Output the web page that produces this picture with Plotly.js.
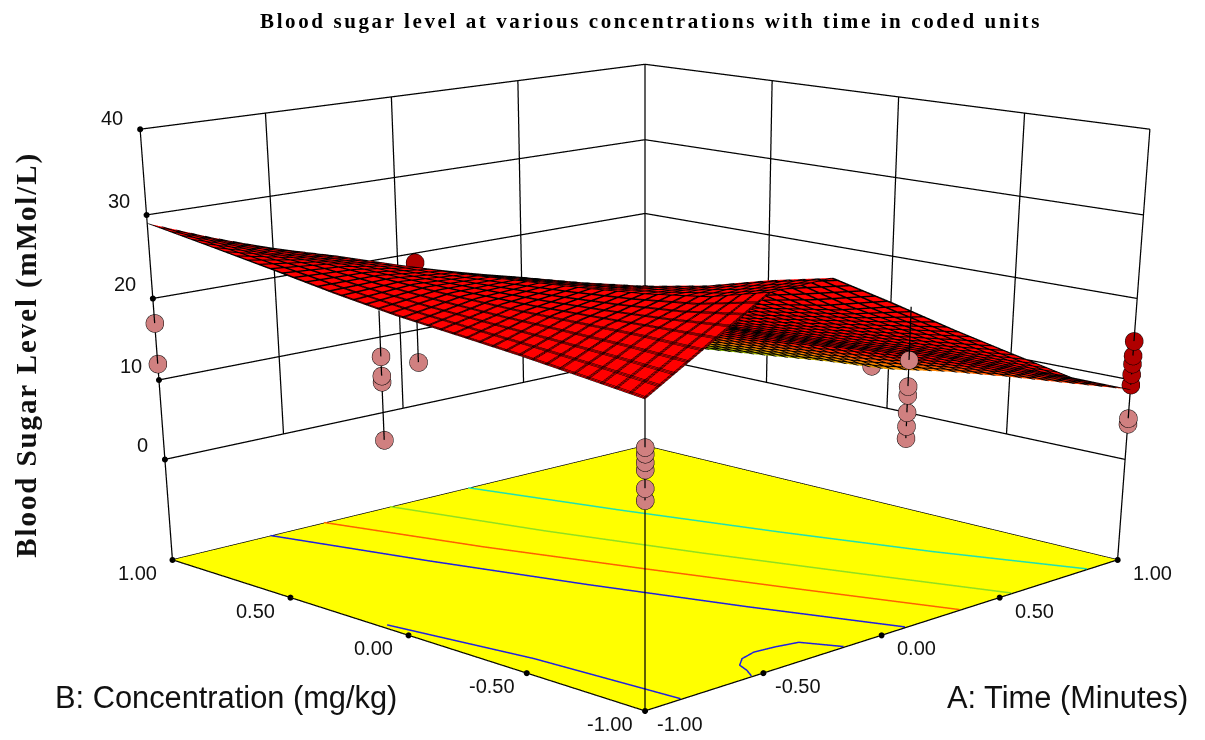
<!DOCTYPE html>
<html>
<head>
<meta charset="utf-8">
<script src="https://cdn.plot.ly/plotly-3.0.1.min.js"></script>
<style>
html,body{margin:0;padding:0;background:#fff;overflow:hidden;width:1205px;height:740px}
#frame{position:relative;width:1205px;height:740px;overflow:hidden}
#chart{position:absolute;left:0;top:-24px;width:1290px;height:2478px}
.gtitle{letter-spacing:2.6px}
.annotation[data-index="0"] text{letter-spacing:1.9px}
</style>
</head>
<body>
<div id="frame"><div id="chart"></div></div>
<script>
// ---- data ----
const chartTitle = "Blood sugar level at various concentrations with time in coded units";
const zTitle = "Blood Sugar Level (mMol/L)";
const aTitle = "A: Time (Minutes)";
const bTitle = "B: Concentration (mg/kg)";
const aGrid = [-1,-0.75,-0.5,-0.25,0,0.25,0.5,0.75,1];
const bGrid = [-1,-0.75,-0.5,-0.25,0,0.25,0.5,0.75,1];
// rows: A, columns: B
const surfaceByA = [
 [21.4,22.2,23.0,23.7,24.4,25.4,26.6,27.8,29.0],
 [25.5,25.6,25.5,25.4,25.5,25.7,26.0,25.8,26.2],
 [29.8,28.0,27.0,26.3,25.7,25.1,24.7,24.3,23.6],
 [30.0,28.5,26.6,25.2,24.2,23.4,22.4,20.5,18.0],
 [25.8,24.0,22.8,21.5,20.3,18.9,17.5,15.5,13.5],
 [21.3,20.2,19.0,17.8,16.6,15.7,14.8,13.2,11.5],
 [16.8,16.0,15.2,14.2,13.4,12.8,12.0,10.5, 9.0],
 [12.2,12.0,11.6,10.8,10.0, 9.0, 8.0, 6.8, 5.5],
 [ 8.8, 8.1, 7.4, 6.5, 5.2, 4.6, 3.7, 2.8, 2.0]
];
const zTicks = [0,10,20,30,40];
const zTickText = ["0","10","20","30","40"];
const floorTicks = [-1,-0.5,0,0.5,1];
const floorTickText = ["-1.00","-0.50","0.00","0.50","1.00"];
const wallTicks = [-0.5,0,0.5];
const floorZ = -13, topZ = 40;
const meshStep = 0.05;

// design points (the middle coded level sits a little right of the 0.00 tick)
const pinkA = [-1,-1, -1,-1,-1,-1, 0.07, -1,-1,-1,-1,-1,-1, 0.07,0.07,0.07,0.07,0.07,0.07, 1,1, 1];
const pinkB = [ 1, 1, 0.07,0.07,0.07,0.07, 1, -1,-1,-1,-1,-1,-1, -1,-1,-1,-1,-1,-1, -1,-1, 0.07];
const pinkZ = [17,12, 19.4,17.2,16.5,9.8, 5.7, 16.3,15.6,14.7,13.9,11.9,10.6, 19,16,15,13,11.4,10, 5.2,4.5, 5.2];
const redA = [0.07, 1,1,1,1,1];
const redB = [1, -1,-1,-1,-1,-1];
const redZ = [18.8, 14.8,13,12,10.7,9.4];
// stems: A, B, surface height, far end
const stemA = [-1,-1,0.07,0.07,1,1];
const stemB = [1,0.07,1,-1,-1,0.07];
const stemFrom = [29,24.6,18.8,25,14.8,5.2];
const stemTo = [12,9.8,5.7,10,4.5,5.0];

// floor contours
const contourLines = [
 {color:"#20e0b0", a:[0.26,0.41,0.56,0.71,0.87], b:[1,0.5,0,-0.5,-1]},
 {color:"#90e020", a:[-0.07,0.08,0.24,0.40,0.55], b:[1,0.5,0,-0.5,-1]},
 {color:"#ff6000", a:[-0.35,-0.18,0,0.17,0.33], b:[1,0.5,0,-0.5,-1]},
 {color:"#2020e0", a:[-0.58,-0.41,-0.24,-0.07,0.10], b:[1,0.5,0,-0.5,-1]},
 {color:"#2020e0", a:[-0.98,-0.94,-0.89,-0.85], b:[0.11,-0.12,-0.42,-1]},
 {color:"#2020e0", a:[-0.55,-0.52,-0.5,-0.45,-0.38,-0.3,-0.22,-0.16], b:[-1,-0.95,-0.9,-0.86,-0.84,-0.85,-0.87,-1]}
];
const surfaceScale = [[0,"#20a020"],[0.1,"#80c000"],[0.2,"#ff9000"],[0.33,"#ff0000"],[1,"#ff0000"]];

// ---- build ----
// The original draws its coded axes with evenly spaced ticks along converging edges;
// this scale keeps those ticks evenly spaced under Plotly's perspective.
const P=1.16;
function w(u){const t=(u+1)/2;return 2*(t/(P-(P-1)*t))-1;}
const wAll=a=>a.map(v=>v===null?null:w(v));
const surfaceZ = bGrid.map((_,j)=>aGrid.map((_,i)=>surfaceByA[i][j]));
function segs(list){
  const x=[],y=[],z=[];
  list.forEach(s=>{x.push(w(s[0]),w(s[3]),null);y.push(w(s[1]),w(s[4]),null);z.push(s[2],s[5],null);});
  return {x,y,z};
}
const frame=[];
zTicks.forEach(t=>{frame.push([-1,1,t,1,1,t]);frame.push([1,-1,t,1,1,t]);});
wallTicks.forEach(t=>{frame.push([t,1,0,t,1,topZ]);frame.push([1,t,0,1,t,topZ]);});
frame.push([-1,1,floorZ,-1,1,topZ],[1,-1,floorZ,1,-1,topZ],[1,1,floorZ,1,1,topZ]);
frame.push([-1,-1,floorZ,-1,-1,surfaceByA[0][0]]);
frame.push([-1,-1,floorZ,1,-1,floorZ],[-1,-1,floorZ,-1,1,floorZ],[1,-1,floorZ,1,1,floorZ],[-1,1,floorZ,1,1,floorZ]);
stemA.forEach((a,i)=>frame.push([a,stemB[i],stemFrom[i],a,stemB[i],stemTo[i]]));
const flat={ambient:1,diffuse:0,specular:0,roughness:1,fresnel:0};
const data=[];
data.push({type:"surface",x:[-1,1],y:[-1,1],z:[[floorZ,floorZ],[floorZ,floorZ]],showscale:false,
  colorscale:[[0,"#ffff00"],[1,"#ffff00"]],lighting:flat,hoverinfo:"skip"});
// mesh lines are one pixel in WebGL, so neighbouring passes thicken them
[0,0.004,0.008].forEach((off,i)=>{
  const mesh={show:true,start:-1+off,end:1,size:meshStep,color:"#000000",width:1,highlight:false};
  data.push({type:"surface",x:wAll(aGrid),y:wAll(bGrid),z:surfaceZ,showscale:false,colorscale:surfaceScale,cmin:0,cmax:30,
    hidesurface:i>0,lighting:flat,hoverinfo:"skip",contours:{x:mesh,y:mesh,z:{show:false,highlight:false}}});
});
const fr=segs(frame);
data.push({type:"scatter3d",mode:"lines",x:fr.x,y:fr.y,z:fr.z,line:{color:"#000000",width:2.5},hoverinfo:"skip"});
contourLines.forEach(c=>data.push({type:"scatter3d",mode:"lines",x:wAll(c.a),y:wAll(c.b),z:c.a.map(()=>floorZ+0.1),
  line:{color:c.color,width:3},hoverinfo:"skip"}));
data.push({type:"scatter3d",mode:"markers",x:wAll(pinkA),y:wAll(pinkB),z:pinkZ,marker:{size:10.5,color:"#d08080",line:{color:"#000000",width:1}},hoverinfo:"skip"});
data.push({type:"scatter3d",mode:"markers",x:wAll(redA),y:wAll(redB),z:redZ,marker:{size:10.5,color:"#b00000",line:{color:"#000000",width:1}},hoverinfo:"skip"});
const tx=[],ty=[],tz=[];
floorTicks.forEach(t=>{tx.push(-1,w(t));ty.push(w(t),-1);tz.push(floorZ,floorZ);});
zTicks.forEach(t=>{tx.push(-1);ty.push(1);tz.push(t);});
data.push({type:"scatter3d",mode:"markers",x:tx,y:ty,z:tz,marker:{size:3.5,color:"#000000"},hoverinfo:"skip"});

const tickFont={family:"Liberation Sans, Arial, sans-serif",size:20,color:"#111111"};
const sceneNotes=[];
zTicks.forEach((t,i)=>sceneNotes.push({x:-1,y:1,z:t,text:zTickText[i],showarrow:false,xshift:-15,yshift:t===40?11:14,font:tickFont,xanchor:"right"}));
floorTicks.forEach((t,i)=>{
  sceneNotes.push({x:-1,y:w(t),z:floorZ,text:floorTickText[i],showarrow:false,xshift:-35,yshift:-13,font:tickFont});
  sceneNotes.push({x:w(t),y:-1,z:floorZ,text:floorTickText[i],showarrow:false,xshift:35,yshift:-13,font:tickFont});
});
const W=1290,H=2478,TOP=24;
const px=x=>x/W, py=y=>1-(y+TOP)/H;
const axisOff={showgrid:false,zeroline:false,showline:false,showticklabels:false,ticks:"",showspikes:false,showbackground:false,title:{text:""}};
const layout={
  width:W,height:H,margin:{l:0,r:0,t:0,b:0},paper_bgcolor:"#fff",showlegend:false,hovermode:false,
  title:{text:chartTitle,x:px(651),xanchor:"center",y:py(21),yanchor:"middle",
    font:{family:"Liberation Serif, Times New Roman, serif",size:21,color:"#000",weight:700}},
  annotations:[
   {xref:"paper",yref:"paper",x:px(27),y:py(355),xanchor:"center",yanchor:"middle",text:zTitle,textangle:-90,showarrow:false,
    font:{family:"Liberation Serif, serif",size:29,color:"#111",weight:700}},
   {xref:"paper",yref:"paper",x:px(226),y:py(697),xanchor:"center",yanchor:"middle",text:bTitle,showarrow:false,
    font:{family:"Liberation Sans, Arial, sans-serif",size:30.8,color:"#111"}},
   {xref:"paper",yref:"paper",x:px(1067.5),y:py(697),xanchor:"center",yanchor:"middle",text:aTitle,showarrow:false,
    font:{family:"Liberation Sans, Arial, sans-serif",size:30.8,color:"#111"}}
  ],
  scene:{
    domain:{x:[0,1],y:[0,1]},bgcolor:"#fff",dragmode:false,
    aspectmode:"manual",aspectratio:{x:1,y:1,z:0.6347},
    camera:{eye:{x:-3.1208,y:-3.1208,z:0.925},center:{x:-0.3246,y:-0.3246,z:-1.172},up:{x:0,y:0,z:1},projection:{type:"perspective"}},
    xaxis:Object.assign({range:[-1,1]},axisOff),
    yaxis:Object.assign({range:[-1,1]},axisOff),
    zaxis:Object.assign({range:[-14,41]},axisOff),
    annotations:sceneNotes
  }
};
Plotly.newPlot("chart",data,layout,{displayModeBar:false,responsive:false});
</script>
</body>
</html>
